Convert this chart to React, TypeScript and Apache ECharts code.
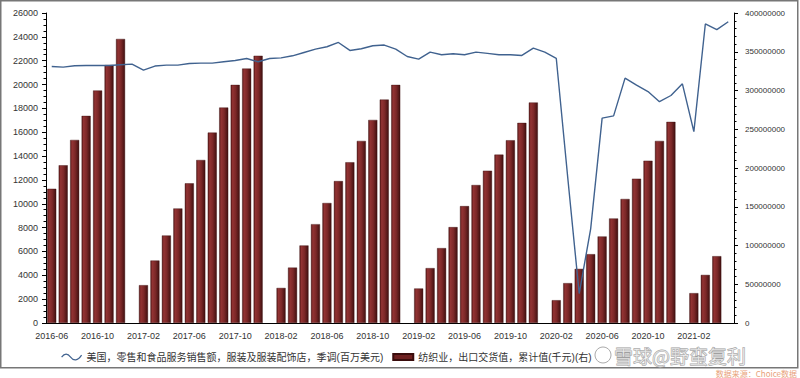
import React, { useEffect, useRef } from "react";
import * as echarts from "echarts";

const months: string[] = [
  "2016-06","2016-07","2016-08","2016-09","2016-10","2016-11","2016-12",
  "2017-01","2017-02","2017-03","2017-04","2017-05","2017-06","2017-07","2017-08","2017-09","2017-10","2017-11","2017-12",
  "2018-01","2018-02","2018-03","2018-04","2018-05","2018-06","2018-07","2018-08","2018-09","2018-10","2018-11","2018-12",
  "2019-01","2019-02","2019-03","2019-04","2019-05","2019-06","2019-07","2019-08","2019-09","2019-10","2019-11","2019-12",
  "2020-01","2020-02","2020-03","2020-04","2020-05","2020-06","2020-07","2020-08","2020-09","2020-10","2020-11","2020-12",
  "2021-01","2021-02","2021-03","2021-04","2021-05",
];

// 美国：零售和食品服务销售额：服装及服装配饰店：季调(百万美元) — left axis
const usApparelSales: (number | null)[] = [
  21510, 21460, 21570, 21600, 21600, 21600, 21660,
  21710, 21210, 21550, 21630, 21630, 21760, 21800, 21800, 21910, 22020, 22180, 21910,
  22180, 22240, 22410, 22690, 22970, 23170, 23530, 22860, 23000, 23250, 23310, 22970,
  22350, 22130, 22720, 22500, 22580, 22500, 22720, 22610, 22500, 22500, 22440, 23060,
  22720, 22200, 12200, 2470, 7900, 17180, 17370, 20540, 19950, 19410, 18560, 19080,
  20060, 16050, 25080, 24600, 25270,
];

// 纺织业：出口交货值：累计值(千元) — right axis
const textileExports: (number | null)[] = [
  173200000, 203500000, 236200000, 267200000, 300000000, 332800000, 366500000,
  null, 48800000, 80600000, 112900000, 147800000, 180200000, 210300000, 245700000, 278000000, 307200000, 328300000, 344800000,
  null, 45200000, 71500000, 100000000, 127500000, 154800000, 183100000, 207400000, 234900000, 262000000, 288300000, 307200000,
  null, 44500000, 70800000, 96600000, 123700000, 150800000, 178000000, 196500000, 217200000, 235800000, 258200000, 284500000,
  null, 29400000, 51400000, 69800000, 88800000, 111700000, 134900000, 160000000, 186200000, 209400000, 234900000, 259500000,
  null, 38500000, 62000000, 86200000, null,
];

const lineName = "美国，零售和食品服务销售额，服装及服装配饰店，季调(百万美元)";
const barName = "纺织业，出口交货值，累计值(千元)(右)";

export default function App() {
  const ref = useRef<HTMLDivElement>(null);
  useEffect(() => {
    if (!ref.current) return;
    const chart = echarts.init(ref.current, null, { renderer: "svg" });
    const font = "'Liberation Sans', Arial, 'Noto Sans CJK SC', sans-serif";
    const barGradient = new echarts.graphic.LinearGradient(0, 0, 1, 0, [
      { offset: 0, color: "#5c1a1a" },
      { offset: 0.2, color: "#923333" },
      { offset: 0.55, color: "#7c2828" },
      { offset: 1, color: "#411010" },
    ]);
    chart.setOption({
      animation: false,
      backgroundColor: "#ffffff",
      textStyle: { fontFamily: font },
      grid: { left: 46, right: 66, top: 13, bottom: 55, containLabel: false },
      legend: {
        left: 56,
        top: 347,
        itemWidth: 20,
        itemHeight: 6,
        itemGap: 9,
        textStyle: { fontSize: 10, color: "#333", fontFamily: font },
        data: [
          {
            name: lineName,
            icon: "path://M0,4 C3,0 6,0 9,4 C12,8 16,8 20,2",
            itemStyle: { color: "rgba(0,0,0,0)", borderColor: "#40628f", borderWidth: 1.2 },
          },
          { name: barName, icon: "rect", itemStyle: { color: "#6e2020" } },
        ],
      },
      xAxis: {
        type: "category",
        data: months,
        boundaryGap: true,
        axisLine: { lineStyle: { color: "#000", width: 1 } },
        axisTick: { interval: 0, alignWithLabel: true, length: 4, lineStyle: { color: "#000" } },
        axisLabel: {
          interval: (idx: number) => idx % 4 === 0,
          fontSize: 9,
          color: "#333",
          margin: 8,
          fontFamily: font,
        },
        splitLine: { show: false },
      },
      yAxis: [
        {
          type: "value",
          min: 0,
          max: 26000,
          interval: 2000,
          axisLine: { show: true, lineStyle: { color: "#000" } },
          axisTick: { show: true, length: 4, lineStyle: { color: "#000" } },
          minorTick: { show: true, splitNumber: 4, length: 2.5, lineStyle: { color: "#000" } },
          axisLabel: { fontSize: 9, color: "#333", margin: 8, fontFamily: font, formatter: (v: number) => String(v) },
          splitLine: { show: false },
        },
        {
          type: "value",
          min: 0,
          max: 400000000,
          interval: 50000000,
          position: "right",
          axisLine: { show: true, lineStyle: { color: "#000" } },
          axisTick: { show: true, length: 4, lineStyle: { color: "#000" } },
          minorTick: { show: true, splitNumber: 5, length: 2.5, lineStyle: { color: "#000" } },
          axisLabel: { fontSize: 8, color: "#333", margin: 11, fontFamily: font, formatter: (v: number) => String(v) },
          splitLine: { show: false },
        },
      ],
      series: [
        {
          name: barName,
          type: "bar",
          yAxisIndex: 1,
          data: textileExports,
          barWidth: 9,
          itemStyle: { color: barGradient, borderColor: "#3a0c0c", borderWidth: 0.4 },
          z: 2,
        },
        {
          name: lineName,
          type: "line",
          yAxisIndex: 0,
          data: usApparelSales,
          symbol: "none",
          lineStyle: { color: "#40628f", width: 1.4 },
          itemStyle: { color: "#40628f" },
          z: 3,
        },
      ],
      graphic: [
        {
          type: "rect",
          shape: { x: 0.75, y: 0.75, width: 797, height: 367 },
          style: { fill: "none", stroke: "#777", lineWidth: 1.5 },
          silent: true,
          z: 10,
        },
        {
          type: "circle",
          shape: { cx: 603, cy: 355, r: 8 },
          style: { fill: "rgba(255,255,255,0.4)", stroke: "#aaa", lineWidth: 1 },
          silent: true,
          z: 20,
        },
        {
          type: "text",
          x: 614,
          y: 355,
          style: {
            text: "雪球@野蛮复利",
            fontSize: 19,
            lineHeight: 20,
            fontFamily: "'Noto Sans CJK SC', sans-serif",
            fill: "rgba(255,255,255,0.55)",
            stroke: "#a0a0a0",
            lineWidth: 0.9,
            verticalAlign: "middle",
          },
          silent: true,
          z: 20,
        },
        {
          type: "text",
          right: 3,
          top: 369,
          style: {
            text: "数据来源：Choice数据",
            fontSize: 8,
            fontFamily: "'Noto Sans CJK SC', sans-serif",
            fill: "#e8a27a",
          },
          silent: true,
        },
      ],
    });
    return () => chart.dispose();
  }, []);
  return (
    <div
      ref={ref}
      style={{ position: "fixed", left: 0, top: 0, width: 800, height: 378 }}
    />
  );
}
